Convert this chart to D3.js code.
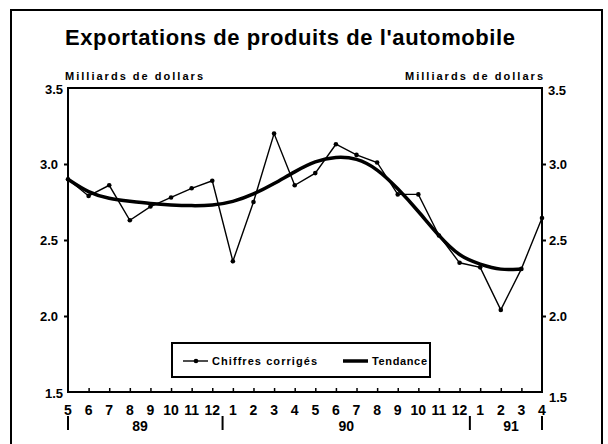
<!DOCTYPE html>
<html>
<head>
<meta charset="utf-8">
<script src="https://cdn.jsdelivr.net/npm/d3@7"></script>
<style>
 body{margin:0;background:#fff;}
 text{font-family:"Liberation Sans",Arial,sans-serif;font-weight:bold;fill:#000;}
</style>
</head>
<body>
<div id="chart"></div>
<script>
// months May 1989 -> April 1991
var months = ["5","6","7","8","9","10","11","12","1","2","3","4","5","6","7","8","9","10","11","12","1","2","3","4"];
var years = [{label:"89", from:0, to:7},{label:"90", from:8, to:19},{label:"91", from:20, to:23}];
// seasonally adjusted values (billions $)
var corriges = [2.90,2.79,2.86,2.63,2.72,2.78,2.84,2.89,2.36,2.75,3.20,2.86,2.94,3.13,3.06,3.01,2.80,2.80,2.53,2.35,2.32,2.04,2.31,2.645];
// trend
var tendance = [2.90,2.81,2.77,2.755,2.74,2.73,2.725,2.727,2.75,2.80,2.87,2.95,3.02,3.05,3.04,2.97,2.84,2.69,2.525,2.39,2.34,2.30,2.31];
var yTicks = [1.5,2.0,2.5,3.0,3.5];

function init(){
    var w = 608, h = 444;
    var svg = d3.select("#chart").append("svg")
                .attr("width", w)
                .attr("height", h);

    var left = 68, right = 542, top = 88, bottom = 392;

    var x = d3.scaleLinear().domain([0, months.length-1]).range([left, right]);
    var y = d3.scaleLinear().domain([1.5, 3.5]).range([bottom, top]);

    // outer frame
    svg.append("rect")
        .attr("x", 11).attr("y", 10)
        .attr("width", 591).attr("height", 450)
        .attr("fill", "none").attr("stroke", "#000").attr("stroke-width", 2);

    // title
    svg.append("text")
        .attr("x", 65).attr("y", 45)
        .attr("textLength", 450)
        .style("font-size", "22px")
        .text("Exportations de produits de l'automobile");

    svg.append("text").attr("x", 65).attr("y", 80)
        .attr("textLength", 138)
        .style("font-size", "11px").text("Milliards de dollars");
    svg.append("text").attr("x", 405).attr("y", 80)
        .attr("textLength", 138)
        .style("font-size", "11px").text("Milliards de dollars");

    // y axes
    var yl = svg.append("g").attr("transform", "translate(" + left + ",0)")
        .call(d3.axisLeft(y).tickValues(yTicks.slice(1, 4)).tickSize(4).tickPadding(6).tickFormat(d3.format(".1f")));
    var yr = svg.append("g").attr("transform", "translate(" + right + ",0)")
        .call(d3.axisRight(y).tickValues(yTicks.slice(1, 4)).tickSize(4).tickPadding(3).tickFormat(d3.format(".1f")));
    [yl, yr].forEach(function(g){
        g.select(".domain").remove();
        g.selectAll("line").attr("stroke", "#000").attr("stroke-width", 2);
        g.selectAll("text").style("font-size", "13px").attr("font-family", null);
    });
    // end labels 1.5 / 3.5 at corners
    svg.append("text").attr("x", 63).attr("y", 398).attr("text-anchor", "end")
        .style("font-size", "13px").text(d3.format(".1f")(yTicks[0]));
    svg.append("text").attr("x", 549).attr("y", 402)
        .style("font-size", "13px").text(d3.format(".1f")(yTicks[0]));
    svg.append("text").attr("x", 63).attr("y", 94).attr("text-anchor", "end")
        .style("font-size", "13px").text(d3.format(".1f")(yTicks[4]));
    svg.append("text").attr("x", 548).attr("y", 95)
        .style("font-size", "13px").text(d3.format(".1f")(yTicks[4]));

    // x axis ticks (inside)
    var xa = svg.append("g").attr("transform", "translate(0," + bottom + ")")
        .call(d3.axisTop(x).tickValues(d3.range(1, months.length-1)).tickSize(4).tickFormat(""));
    xa.select(".domain").remove();
    xa.selectAll("line").attr("stroke", "#000").attr("stroke-width", 1.5);

    // month labels
    svg.selectAll(".month").data(months).enter().append("text")
        .attr("class", "month")
        .attr("x", function(d, i){ return x(i); })
        .attr("y", 415)
        .attr("text-anchor", "middle")
        .style("font-size", "14px")
        .text(function(d){ return d; });

    // year separators and labels
    var seps = [0, 7.5, 19.5, 23];
    svg.selectAll(".sep").data(seps).enter().append("line")
        .attr("x1", function(d){ return x(d); }).attr("x2", function(d){ return x(d); })
        .attr("y1", 416).attr("y2", 430)
        .attr("stroke", "#000").attr("stroke-width", 2);
    svg.selectAll(".year").data(years).enter().append("text")
        .attr("x", function(d){ return d.label == "91" ? x(21.5) : x((d.from + d.to) / 2); })
        .attr("y", 431)
        .attr("text-anchor", "middle")
        .style("font-size", "14px")
        .text(function(d){ return d.label; });

    // plot frame
    svg.append("rect")
        .attr("x", left).attr("y", top)
        .attr("width", right - left).attr("height", bottom - top)
        .attr("fill", "none").attr("stroke", "#000").attr("stroke-width", 2);

    var line = d3.line().x(function(d, i){ return x(i); }).y(function(d){ return y(d); });
    var smooth = d3.line().curve(d3.curveBasis).x(function(d, i){ return x(i); }).y(function(d){ return y(d); });

    // trend
    svg.append("path").datum(tendance)
        .attr("d", smooth)
        .attr("fill", "none").attr("stroke", "#000").attr("stroke-width", 3.5)
        .attr("stroke-linecap", "round");

    // adjusted figures
    svg.append("path").datum(corriges)
        .attr("d", line)
        .attr("fill", "none").attr("stroke", "#000").attr("stroke-width", 1.4);
    svg.selectAll(".pt").data(corriges).enter().append("circle")
        .attr("cx", function(d, i){ return x(i); })
        .attr("cy", function(d){ return y(d); })
        .attr("r", 2.3).attr("fill", "#000");

    // legend
    var lg = svg.append("g").attr("transform", "translate(172,343)");
    lg.append("rect").attr("width", 258).attr("height", 34)
        .attr("fill", "#fff").attr("stroke", "#000").attr("stroke-width", 2);
    lg.append("line").attr("x1", 11).attr("x2", 36).attr("y1", 18).attr("y2", 18)
        .attr("stroke", "#000").attr("stroke-width", 1.4);
    lg.append("circle").attr("cx", 24).attr("cy", 18).attr("r", 2.3).attr("fill", "#000");
    lg.append("text").attr("x", 40).attr("y", 22).attr("textLength", 105)
        .style("font-size", "11px").text("Chiffres corrigés");
    lg.append("line").attr("x1", 171).attr("x2", 196).attr("y1", 18).attr("y2", 18)
        .attr("stroke", "#000").attr("stroke-width", 3.5);
    lg.append("text").attr("x", 200).attr("y", 22).attr("textLength", 55)
        .style("font-size", "11px").text("Tendance");
}
window.onload = init;
</script>
</body>
</html>
